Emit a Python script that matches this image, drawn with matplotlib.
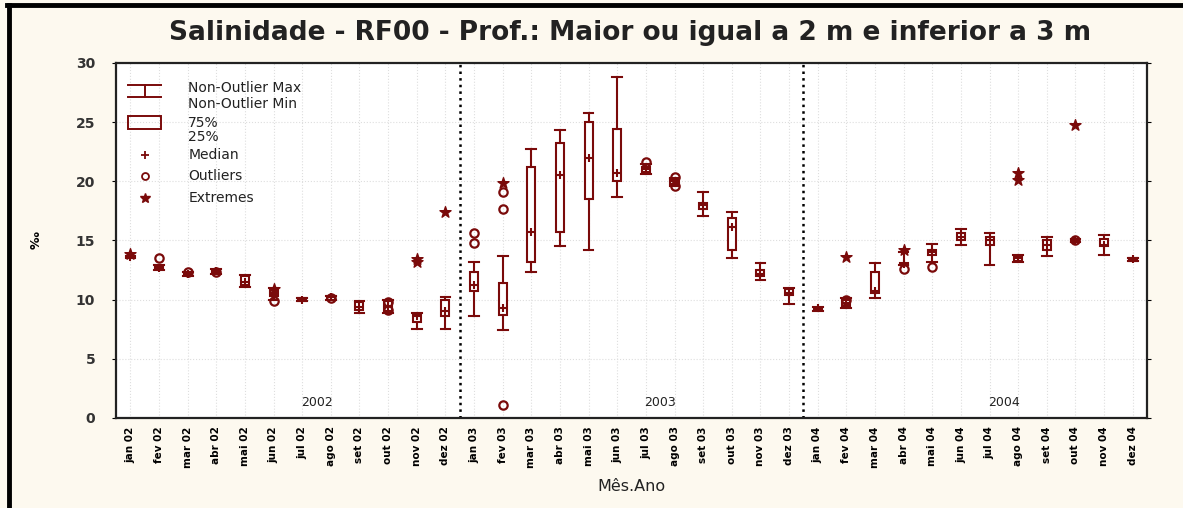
import numpy as np
import matplotlib.pyplot as plt
from matplotlib.lines import Line2D
from matplotlib.patches import Rectangle

# month labels (Mês.Ano)
meses = ['jan', 'fev', 'mar', 'abr', 'mai', 'jun', 'jul', 'ago', 'set', 'out', 'nov', 'dez']
anos = ['02', '03', '04']
labels = [m + ' ' + a for a in anos for m in meses]
year_names = ['2002', '2003', '2004']

# box statistics
med = [13.6, 12.7, 12.2, 12.4, 11.5, 10.5, 10.0, 10.2, 9.4, 9.5, 8.6, 9.0,
       11.2, 9.3, 15.7, 20.5, 22.0, 20.7, 21.0, 20.0, 18.0, 16.1, 12.2, 10.6,
       9.3, 9.7, 10.7, 13.0, 14.0, 15.3, 15.0, 13.5, 14.6, 15.0, 14.6, 13.4]
q1 = [13.6, 12.6, 12.1, 12.3, 11.2, 10.3, 9.9, 10.0, 9.1, 9.0, 8.1, 8.6,
      10.7, 8.7, 13.2, 15.7, 18.5, 20.0, 20.8, 19.8, 17.7, 14.2, 12.0, 10.4,
      9.2, 9.5, 10.6, 12.9, 13.8, 15.0, 14.6, 13.3, 14.2, 14.9, 14.5, 13.3]
q3 = [13.6, 12.8, 12.3, 12.5, 12.0, 10.8, 10.1, 10.3, 9.8, 9.9, 8.8, 10.0,
      12.3, 11.4, 21.2, 23.2, 25.0, 24.4, 21.2, 20.2, 18.2, 16.9, 12.5, 10.9,
      9.3, 10.0, 12.3, 13.1, 14.2, 15.6, 15.3, 13.7, 15.0, 15.1, 15.1, 13.5]
wlo = [13.5, 12.5, 12.0, 12.2, 11.1, 10.0, 9.9, 10.0, 8.9, 8.9, 7.5, 7.5,
       8.6, 7.4, 12.3, 14.5, 14.2, 18.7, 20.6, 19.6, 17.1, 13.5, 11.7, 9.6,
       9.0, 9.3, 10.1, 12.9, 13.2, 14.6, 12.9, 13.2, 13.7, 14.9, 13.8, 13.3]
whi = [13.7, 12.9, 12.3, 12.6, 12.1, 11.0, 10.1, 10.3, 9.9, 10.0, 8.9, 10.2,
       13.2, 13.7, 22.7, 24.3, 25.8, 28.8, 21.5, 20.3, 19.1, 17.4, 13.1, 11.0,
       9.4, 10.1, 13.1, 14.0, 14.7, 16.0, 15.6, 13.8, 15.3, 15.1, 15.5, 13.5]
outliers = [[], [13.5], [12.3], [12.3], [], [9.9], [], [10.1], [], [9.8, 9.1], [], [],
            [14.8, 15.6], [17.7, 19.1, 1.1], [], [], [], [], [21.6], [20.4, 19.6], [], [], [], [],
            [], [10.0], [], [12.6], [12.8], [], [], [], [], [15.0], [], []]
extremes = [[13.9], [], [], [], [], [10.9], [], [], [], [], [13.4, 13.2], [17.4],
            [], [19.9], [], [], [], [], [], [], [], [], [], [],
            [], [13.6], [], [14.2], [], [], [], [20.1, 20.7], [], [24.8], [], []]

red = '#7a0a0a'
bg = '#fdf9ef'

fig = plt.figure(figsize=(11.83, 5.08), dpi=100, facecolor=bg)
ax = fig.add_axes([0.0981, 0.1772, 0.8715, 0.6988])
ax.set_facecolor('white')

x = np.arange(len(labels))
stats = []
for i in range(len(labels)):
    stats.append(dict(med=med[i], q1=q1[i], q3=q3[i], whislo=wlo[i], whishi=whi[i],
                      fliers=outliers[i]))

ax.bxp(stats, positions=x, widths=0.28, capwidths=0.34, showfliers=True, patch_artist=True,
       boxprops=dict(facecolor='white', edgecolor=red, linewidth=1.5),
       whiskerprops=dict(color=red, linewidth=1.5),
       capprops=dict(color=red, linewidth=1.5),
       medianprops=dict(linewidth=0),
       flierprops=dict(marker='o', markerfacecolor='none', markeredgecolor=red,
                       markersize=6, markeredgewidth=1.6), zorder=3)
ax.scatter(x, med, marker='+', s=40, color=red, linewidths=1.5, zorder=4)
ex_x = [i for i in range(len(labels)) for v in extremes[i]]
ex_y = [v for i in range(len(labels)) for v in extremes[i]]
ax.scatter(ex_x, ex_y, marker='*', s=70, color=red, zorder=4)

ax.set_xlim(-0.5, len(labels) - 0.5)
ax.set_ylim(0, 30)
ax.set_yticks(np.arange(0, 31, 5))
ax.set_xticks(x)
ax.set_xticklabels(labels, rotation=90, fontsize=7.5, fontweight='bold', va='top')
ax.tick_params(axis='x', length=0, pad=6)
ax.tick_params(axis='y', length=3, labelsize=10, pad=12, right=True, direction='out')
for t in ax.get_yticklabels():
    t.set_fontweight('bold')
    t.set_color('#333333')

ax.grid(True, color='#dedede', linestyle=':', linewidth=0.8, zorder=0)
ax.set_axisbelow(True)
for s in ax.spines.values():
    s.set_linewidth(1.6)
    s.set_color('#222222')

# year separators and year names
for k in range(1, len(year_names)):
    ax.axvline(12 * k - 0.5, color='black', linestyle=':', linewidth=1.8, zorder=2)
for k, yname in enumerate(year_names):
    ax.text(12 * k + 6.5, 1.3, yname, ha='center', va='center', fontsize=9, color='#222222')

ax.set_xlabel('Mês.Ano', fontsize=11.5, labelpad=8, color='#222222')
ax.set_ylabel('‰', fontsize=9, fontweight='bold', labelpad=24)

fig.text(0.533, 0.935, 'Salinidade - RF00 - Prof.: Maior ou igual a 2 m e inferior a 3 m',
         ha='center', va='center', fontsize=19, fontweight='bold', color='#222222')

# legend drawn in axes fraction
tr = ax.transAxes
lx, tx = 0.028, 0.070
ax.plot([lx - 0.016, lx + 0.016], [0.937, 0.937], color=red, lw=1.4, transform=tr)
ax.plot([lx - 0.016, lx + 0.016], [0.905, 0.905], color=red, lw=1.4, transform=tr)
ax.plot([lx, lx], [0.905, 0.937], color=red, lw=1.4, transform=tr)
ax.add_patch(Rectangle((lx - 0.016, 0.815), 0.032, 0.035, fill=False, edgecolor=red,
                       lw=1.4, transform=tr))
ax.plot([lx], [0.741], marker='+', color=red, ms=6, mew=1.3, transform=tr)
ax.plot([lx], [0.682], marker='o', mfc='none', mec=red, ms=5, mew=1.3, transform=tr)
ax.plot([lx], [0.620], marker='*', color=red, ms=7, transform=tr)
leg_text = [(0.930, 'Non-Outlier Max'), (0.885, 'Non-Outlier Min'), (0.831, '75%'),
            (0.792, '25%'), (0.741, 'Median'), (0.682, 'Outliers'), (0.620, 'Extremes')]
for yy, s in leg_text:
    ax.text(tx, yy, s, transform=tr, fontsize=10, va='center', ha='left', color='#222222')

# outer frame on left and top
fig.add_artist(Line2D([0.008, 0.008], [0, 0.99], color='black', lw=3.5))
fig.add_artist(Line2D([0.006, 1.0], [0.99, 0.99], color='black', lw=3.5))

fig.savefig('out.png', dpi=100, facecolor=bg)
